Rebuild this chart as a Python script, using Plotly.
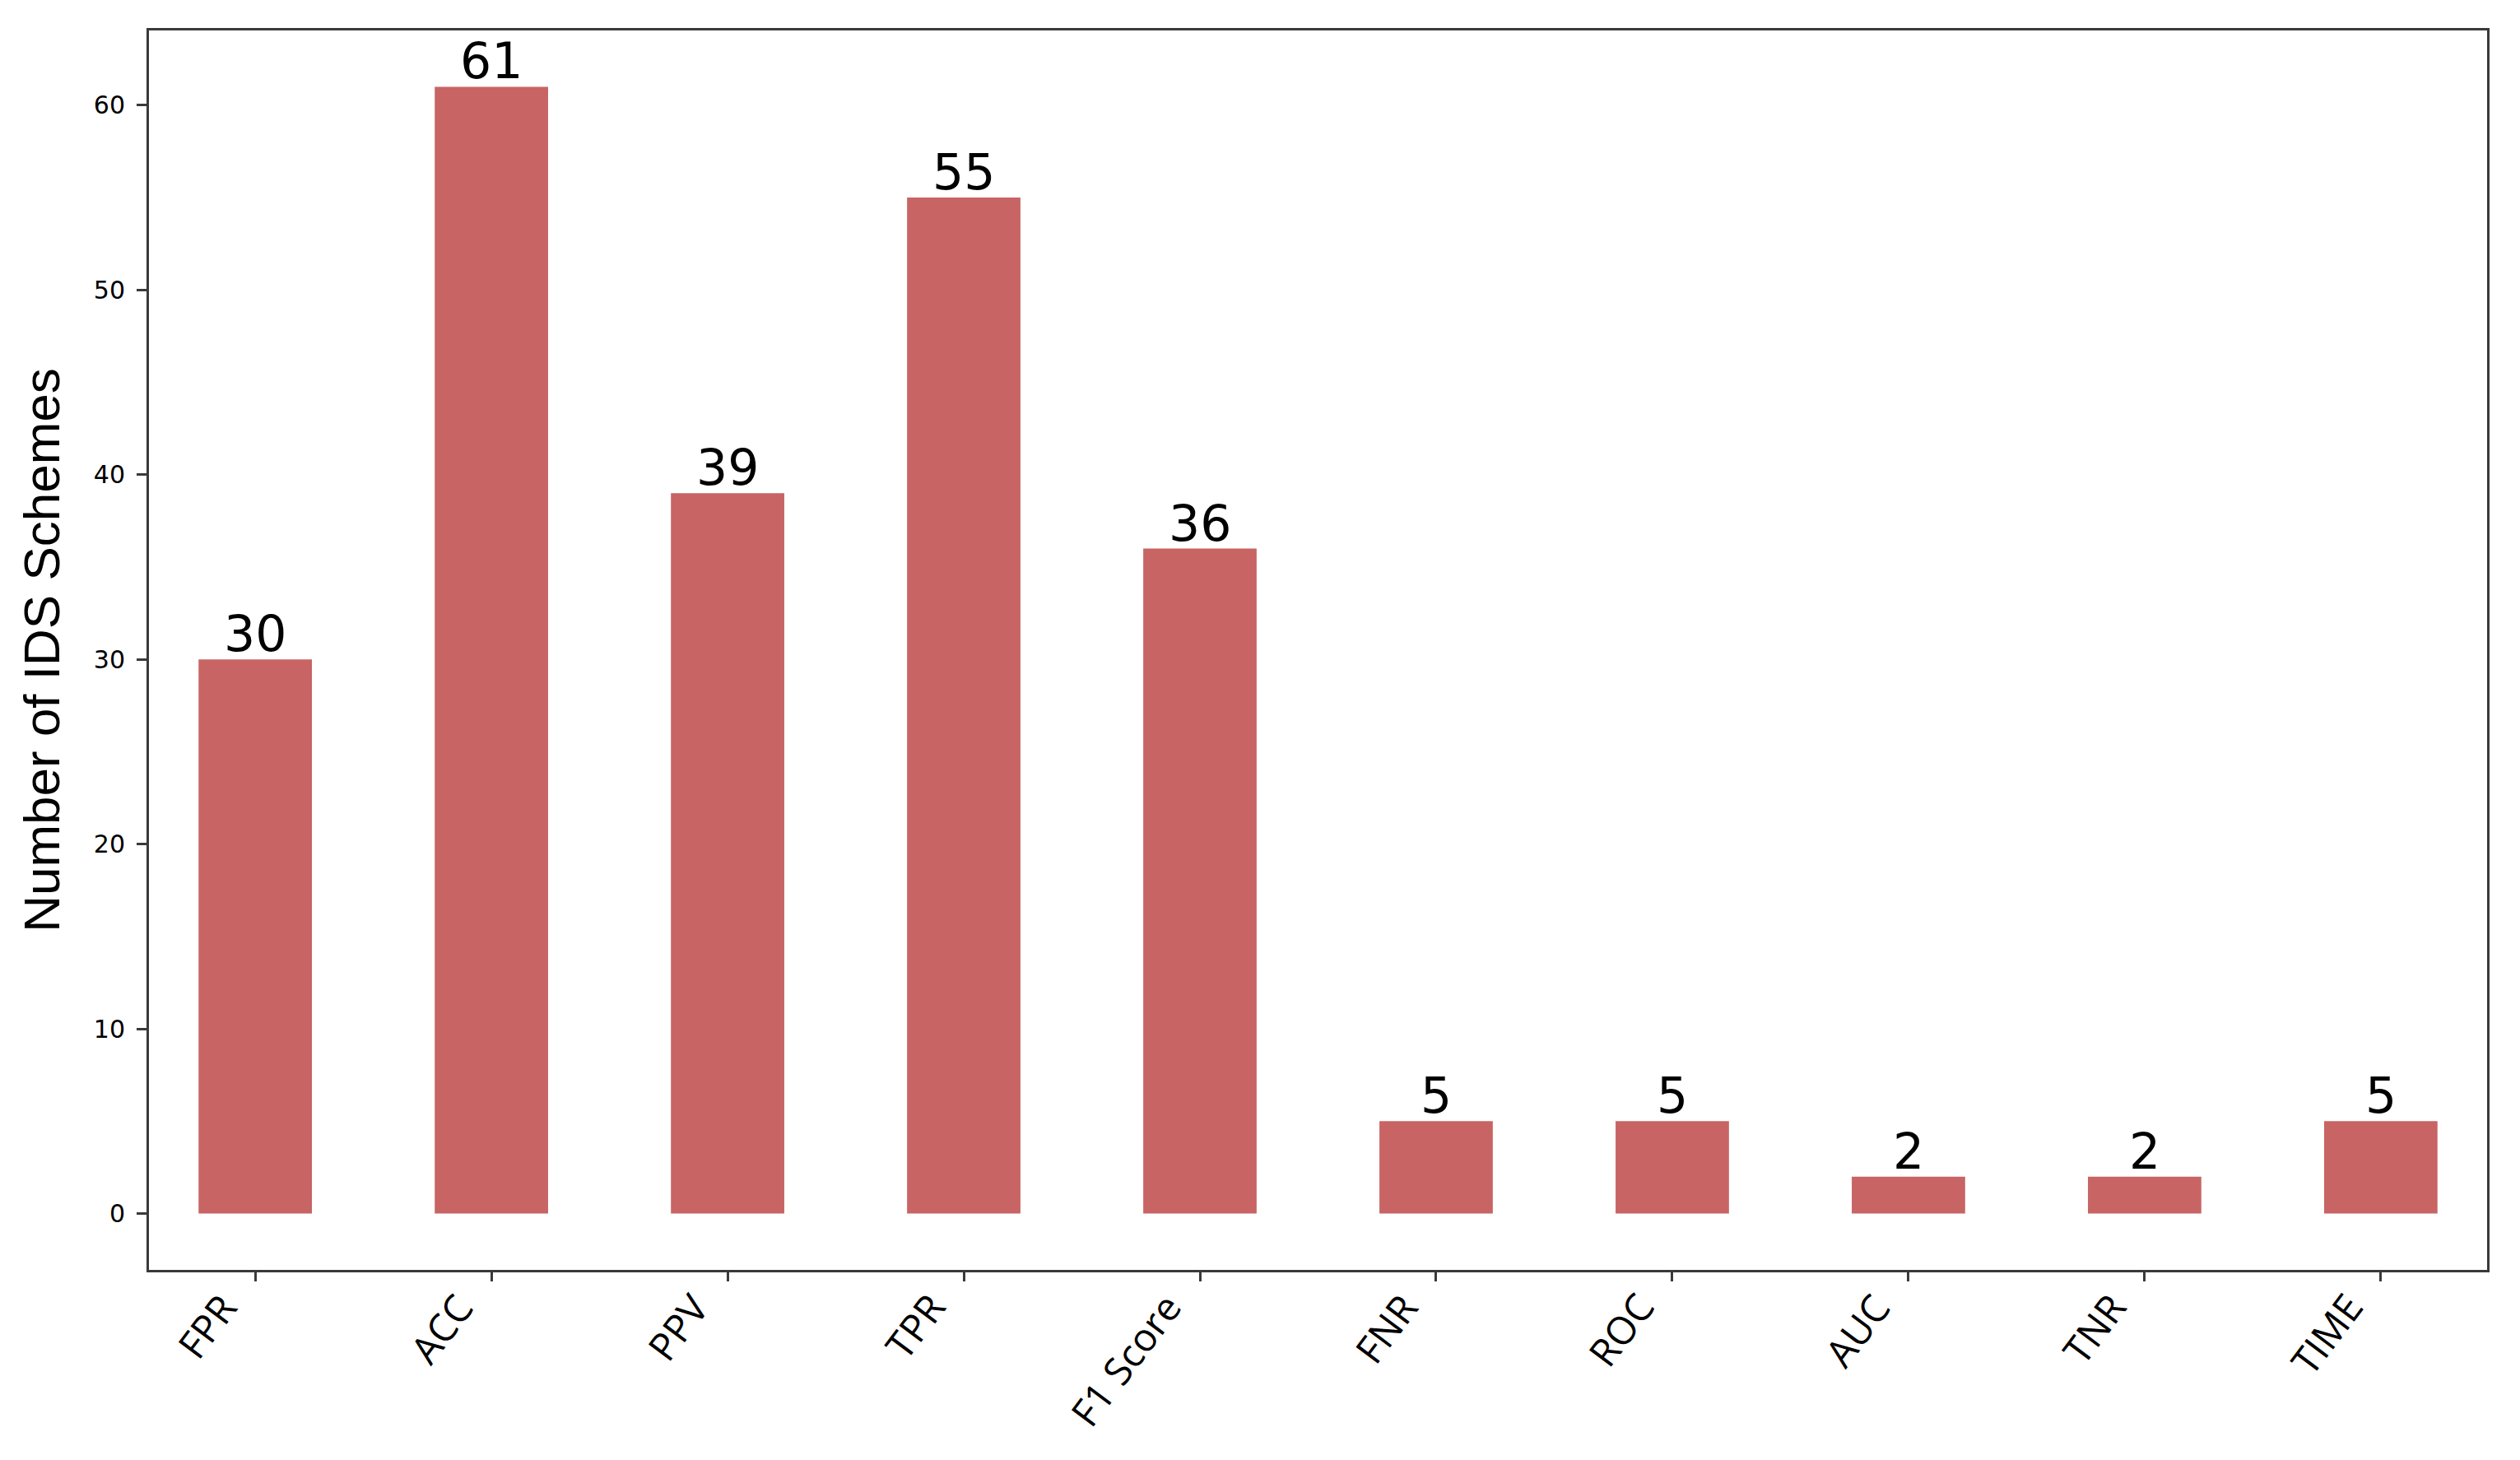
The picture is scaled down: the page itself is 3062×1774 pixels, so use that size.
import plotly.graph_objects as go

categories = ["FPR", "ACC", "PPV", "TPR", "F1 Score", "FNR", "ROC", "AUC", "TNR", "TIME"]
counts = [30, 61, 39, 55, 36, 5, 5, 2, 2, 5]
y_ticks = [0, 10, 20, 30, 40, 50, 60]

bar_color = "#C86464"
axis_color = "#3a3a3a"

fig = go.Figure(
    go.Bar(
        x=categories,
        y=counts,
        width=0.48,
        marker=dict(color=bar_color, line=dict(width=0)),
        cliponaxis=False,
    )
)

# value labels above bars
for c, v in zip(categories, counts):
    fig.add_annotation(
        x=c, y=v, xref="x", yref="y",
        text=str(v), showarrow=False,
        xanchor="center", yanchor="bottom", yshift=-6,
        font=dict(family="DejaVu Sans", size=60, color="black"),
    )

# rotated category labels
for c in categories:
    fig.add_annotation(
        x=c, y=0, xref="x", yref="paper",
        text=c, showarrow=False, textangle=-53,
        xanchor="right", yanchor="top", xshift=-6, yshift=-13,
        font=dict(family="Open Sans", size=47, color="black"),
    )

# page body has an 8px margin; compensate so the plot area lands where the reference has it
fig.update_layout(
    width=3046,
    height=1758,
    margin=dict(l=173, r=32, t=29, b=223),
    plot_bgcolor="white",
    paper_bgcolor="white",
    showlegend=False,
)

fig.update_xaxes(
    range=[-0.45, 9.45],
    automargin=False,
    showticklabels=False,
    showline=True,
    linecolor=axis_color,
    linewidth=3,
    mirror=True,
    ticks="outside",
    ticklen=11,
    tickwidth=3,
    tickcolor=axis_color,
    showgrid=False,
)

fig.update_yaxes(
    range=[-3.05, 64.05],
    automargin=False,
    tickvals=y_ticks,
    ticktext=[str(v) for v in y_ticks],
    tickfont=dict(family="DejaVu Sans", size=30, color="black"),
    ticklabelstandoff=8,
    title=dict(
        text="Number of IDS Schemes",
        font=dict(family="Liberation Sans", size=62, color="black"),
        standoff=22,
    ),
    showline=True,
    linecolor=axis_color,
    linewidth=3,
    mirror=True,
    ticks="outside",
    ticklen=12,
    tickwidth=3,
    tickcolor=axis_color,
    showgrid=False,
    zeroline=False,
)

fig.write_html("out.html")
